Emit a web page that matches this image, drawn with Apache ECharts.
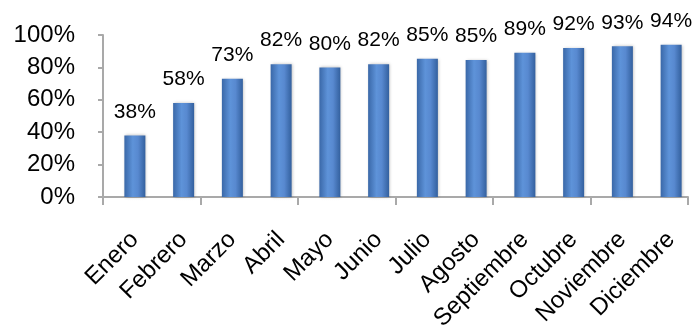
<!DOCTYPE html>
<html>
<head>
<meta charset="utf-8">
<script src="https://cdn.jsdelivr.net/npm/echarts@6/dist/echarts.min.js"></script>
<style>
html,body{margin:0;padding:0;background:#fff;}
#chart{width:696px;height:329px;}
</style>
</head>
<body>
<div id="chart"></div>
<script>
const categories = ["Enero","Febrero","Marzo","Abril","Mayo","Junio","Julio","Agosto","Septiembre","Octubre","Noviembre","Diciembre"];
const values = [38, 58, 73, 82, 80, 82, 85.3, 84.6, 89, 92, 93, 94];
const yTicks = [0, 20, 40, 60, 80, 100];

const FONT = "Liberation Sans, Arial, sans-serif";
const AXIS = '#a9a9a9';
const chart = echarts.init(document.getElementById('chart'), null, {renderer: 'canvas'});
chart.setOption({
  animation: false,
  backgroundColor: '#ffffff',
  grid: [
    {left: 103, right: 8, top: 35, bottom: 132, containLabel: false, outerBoundsMode: 'none'},
    {left: 110.5, right: 0.5, top: 35, bottom: 132, containLabel: false, outerBoundsMode: 'none'}
  ],
  xAxis: [{
    gridIndex: 0,
    type: 'category',
    data: categories,
    boundaryGap: true,
    axisLine: {show: true, lineStyle: {color: AXIS, width: 2}},
    axisTick: {show: true, length: 8, lineStyle: {color: AXIS, width: 2}},
    axisLabel: {show: false}
  }, {
    gridIndex: 1,
    type: 'category',
    data: categories,
    boundaryGap: true,
    axisLine: {show: false},
    axisTick: {show: false},
    axisLabel: {rotate: 45, interval: 0, margin: 39, color: '#000', fontSize: 24, fontFamily: FONT, hideOverlap: false}
  }],
  yAxis: [{
    gridIndex: 0,
    type: 'value',
    min: yTicks[0],
    max: yTicks[yTicks.length - 1],
    interval: 20,
    splitLine: {show: false},
    axisLine: {show: true, lineStyle: {color: AXIS, width: 2}},
    axisTick: {show: true, length: 5, lineStyle: {color: AXIS, width: 2}},
    axisLabel: {margin: 28, color: '#000', fontSize: 24, fontFamily: FONT, formatter: v => v + '%'}
  }, {
    gridIndex: 1,
    type: 'value',
    min: yTicks[0],
    max: yTicks[yTicks.length - 1],
    interval: 20,
    show: false
  }],
  series: [{
    type: 'bar',
    xAxisIndex: 1,
    yAxisIndex: 1,
    data: values,
    barWidth: 21,
    itemStyle: {
      color: new echarts.graphic.LinearGradient(0, 0, 1, 0, [
        {offset: 0, color: '#3a68a8'},
        {offset: 0.4, color: '#5e93d9'},
        {offset: 0.65, color: '#5889d0'},
        {offset: 1, color: '#33609e'}
      ]),
      shadowColor: 'rgba(0,0,0,0.25)',
      shadowBlur: 3,
      shadowOffsetX: 1,
      shadowOffsetY: 0
    },
    label: {
      show: true,
      position: 'top',
      distance: 13,
      color: '#000',
      fontSize: 21,
      fontFamily: FONT,
      formatter: p => Math.round(p.value) + '%'
    }
  }]
});
</script>
</body>
</html>
